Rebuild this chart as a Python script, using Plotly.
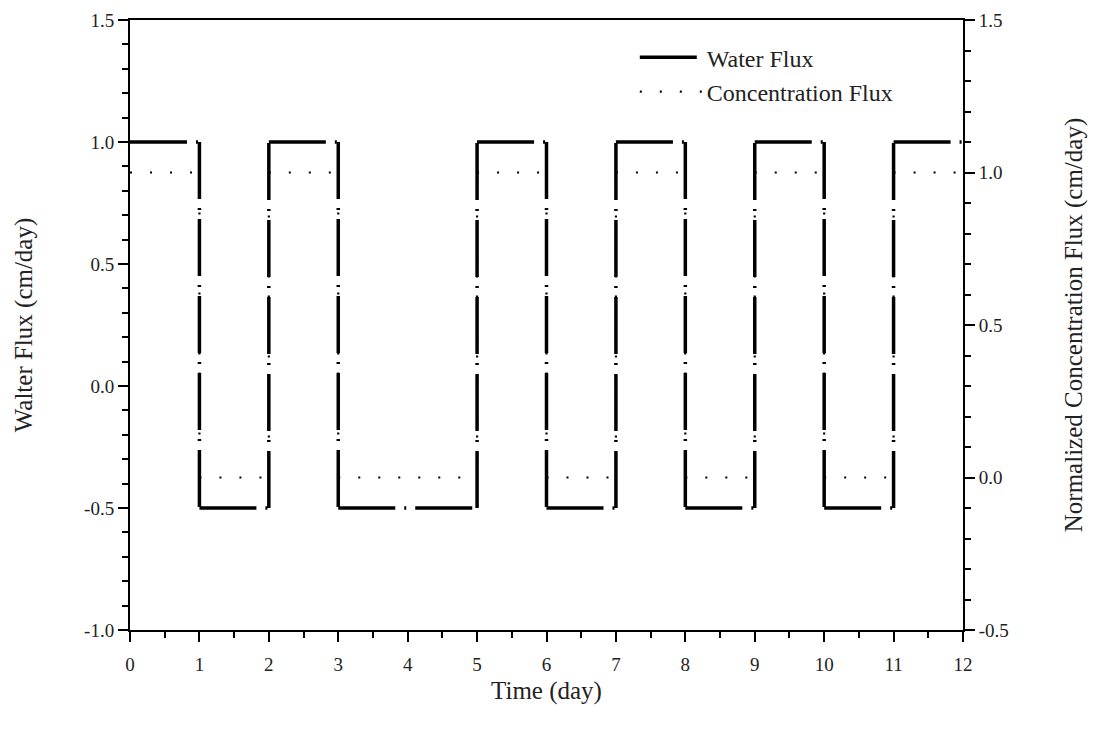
import plotly.graph_objects as go

# ── Data ──────────────────────────────────────────────────────────────────────
time_days = [0, 1, 2, 3, 5, 6, 7, 8, 9, 10, 11, 12]
water_flux = [1.0, -0.5, 1.0, -0.5, 1.0, -0.5, 1.0, -0.5, 1.0, -0.5, 1.0, 1.0]
conc_flux = [1.0, 0.0, 1.0, 0.0, 1.0, 0.0, 1.0, 0.0, 1.0, 0.0, 1.0, 1.0]

x_ticks = list(range(0, 13))
y_ticks = [-1.0, -0.5, 0.0, 0.5, 1.0, 1.5]
y_ticklabels = ["-1.0", "-0.5", "0.0", "0.5", "1.0", "1.5"]
y2_ticks = [-0.5, 0.0, 0.5, 1.0, 1.5]
y2_ticklabels = ["-0.5", "0.0", "0.5", "1.0", "1.5"]

FONT = "Liberation Serif, Times New Roman, serif"
INK = "#000000"


def step_segments(t, v):
    """Break a step series into separate pieces so the dash pattern restarts on each."""
    xs, ys = [], []
    for i in range(len(t) - 1):
        xs += [t[i], t[i + 1], None]
        ys += [v[i], v[i], None]
        if i + 1 < len(t) - 1 and v[i + 1] != v[i]:
            xs += [t[i + 1], t[i + 1], None]
            ys += [v[i], v[i + 1], None]
    return xs, ys


wx, wy = step_segments(time_days, water_flux)
cx, cy = step_segments(time_days, conc_flux)

fig = go.Figure()

# concentration first so the water flux line sits on top
fig.add_trace(go.Scatter(
    x=cx, y=cy, mode="lines", connectgaps=False,
    line=dict(color=INK, width=2.2, dash="2px,18px"),
    name="Concentration Flux", legendrank=2,
    yaxis="y2",
))

fig.add_trace(go.Scatter(
    x=wx, y=wy, mode="lines", connectgaps=False,
    line=dict(color=INK, width=3.5, dash="57px,9px,2px,9px"),
    name="Water Flux", legendrank=1,
))

axis_common = dict(
    showline=True, linecolor=INK, linewidth=2,
    ticks="outside", ticklen=10, tickwidth=2, tickcolor=INK,
    showgrid=False, zeroline=False, automargin=False,
    tickfont=dict(family=FONT, size=19, color="#222"),
)
minor_common = dict(ticks="outside", ticklen=6, tickcolor=INK, tickwidth=2, showgrid=False)

# page body adds an 8px offset, margins are set against that
fig.update_layout(
    width=1096, height=742,
    paper_bgcolor="white", plot_bgcolor="white",
    margin=dict(l=122, r=141, t=12, b=120),
    font=dict(family=FONT, color=INK),
    xaxis=dict(
        range=[0, 12], tickvals=x_ticks, mirror=True, ticklabelstandoff=6,
        minor=dict(dtick=0.5, **minor_common),
        title=dict(text="Time (day)", font=dict(family=FONT, size=25, color="#222"), standoff=8),
        **axis_common,
    ),
    yaxis=dict(
        range=[-1.0, 1.5], tickvals=y_ticks, ticktext=y_ticklabels,
        minor=dict(dtick=0.1, **minor_common),
        title=dict(text="Walter Flux (cm/day)", font=dict(family=FONT, size=25, color="#222"), standoff=44),
        **axis_common,
    ),
    yaxis2=dict(
        range=[-0.5, 1.5], tickvals=y2_ticks, ticktext=y2_ticklabels,
        overlaying="y", side="right",
        minor=dict(dtick=0.1, **minor_common),
        title=dict(text="Normalized Concentration Flux (cm/day)", font=dict(family=FONT, size=25, color="#222"),
                   standoff=57),
        **axis_common,
    ),
    legend=dict(
        x=0.606, y=0.975, xanchor="left", yanchor="top",
        bgcolor="rgba(0,0,0,0)", itemwidth=62,
        font=dict(family=FONT, size=24, color="#222"),
        tracegroupgap=0,
    ),
)

fig.write_html("out.html")
